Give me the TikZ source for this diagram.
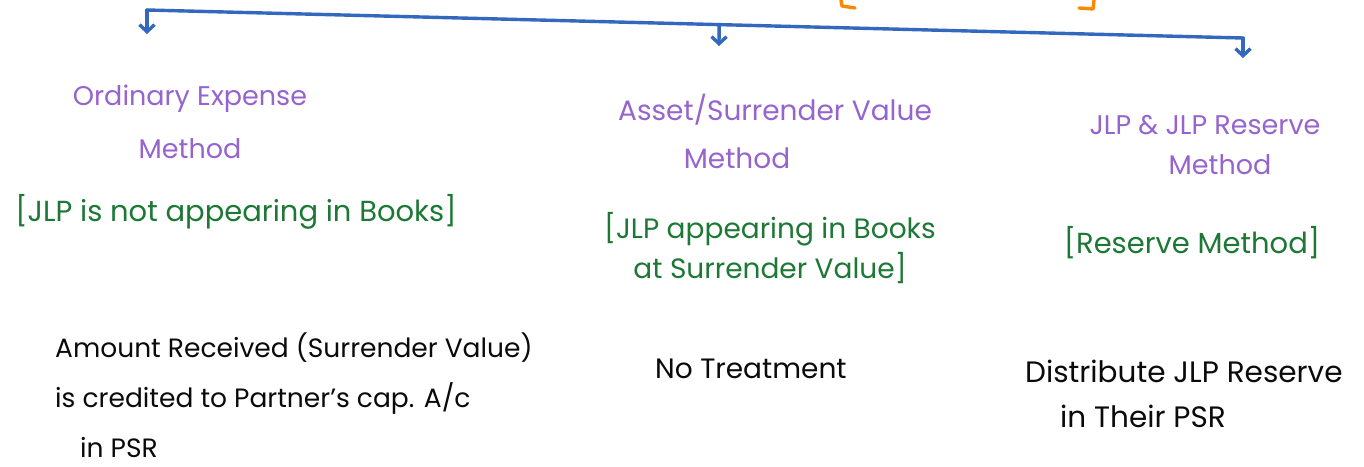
\documentclass[tikz,border=0pt]{standalone}
\usepackage{fontspec}
\setmainfont{Poppins}
\usetikzlibrary{arrows.meta,calc}
\definecolor{penblue}{RGB}{52,104,190}
\definecolor{penpurple}{RGB}{150,100,205}
\definecolor{pengreen}{RGB}{28,120,52}
\definecolor{penorange}{RGB}{255,136,0}
\definecolor{penblack}{RGB}{10,10,10}
\tikzset{
  branch/.style={draw=penblue, line width=3.4pt, line cap=round, line join=round},
  drop/.style={branch, -{Straight Barb[length=7pt,width=15pt,line width=3.4pt]}},
  method/.style={text=penpurple, align=center, inner sep=0pt},
  note/.style={text=pengreen, align=center, inner sep=0pt},
  effect/.style={text=penblack, align=left, inner sep=0pt, anchor=base west},
  bracketmark/.style={draw=penorange, line width=3.4pt, line cap=round, line join=round}
}
\begin{document}
\begin{tikzpicture}[x=1pt,y=-1pt]
\useasboundingbox (0,0) rectangle (1364,466);

% top fragments of the bracket above
\draw[bracketmark] (841,0) -- (842,6) -- (855,8);
\draw[bracketmark] (1094,0) -- (1093,9) -- (1079,8);

% the branching line
\coordinate (top) at (147,10);
\coordinate (end) at (1243,38);
\coordinate (mid) at ($(top)!0.522!(end)$);
\draw[branch] (top) -- (end);

% method headings
\node[method, font=\fontsize{27}{53}\selectfont] (m1) at (190,122) {Ordinary Expense\\Method};
\node[method, font=\fontsize{28}{48}\selectfont] (m2) at (775,131) {Asset/Surrender Value\\Method\hspace*{76pt}};
\node[method, font=\fontsize{27}{40}\selectfont] (m3) at (1205,145) {JLP \& JLP Reserve\\\hspace*{30pt}Method};

% arrows down to each method
\coordinate (a1) at (147,34);
\coordinate (a2) at (719,46);
\coordinate (a3) at (1243,58);
\draw[drop] (top) -- (a1);
\draw[drop] (mid) -- (a2);
\draw[drop] (end) -- (a3);

% bracketed notes
\node[note, font=\fontsize{29}{40}\selectfont] (n1) at (236,212) {[JLP is not appearing in Books]};
\node[note, font=\fontsize{28}{40}\selectfont] (n2) at (770,248) {[JLP appearing in Books\\at Surrender Value]};
\node[note, font=\fontsize{29}{40}\selectfont] (n3) at (1192,243) {[Reserve Method]};

% treatment of the amount (anchored at the baseline of the last line)
\node[effect, font=\fontsize{26.5}{50}\selectfont] (e1) at (55,457) {Amount Received (Surrender Value)\\is credited to Partner's cap. A/c\\\hspace*{25pt}in PSR};
\node[effect, font=\fontsize{28}{50}\selectfont] (e2) at (655,378) {No Treatment};
\node[effect, font=\fontsize{29.5}{45}\selectfont] (e3) at (1025,427) {Distribute JLP Reserve\\\hspace*{35pt}in Their PSR};
\end{tikzpicture}
\end{document}
